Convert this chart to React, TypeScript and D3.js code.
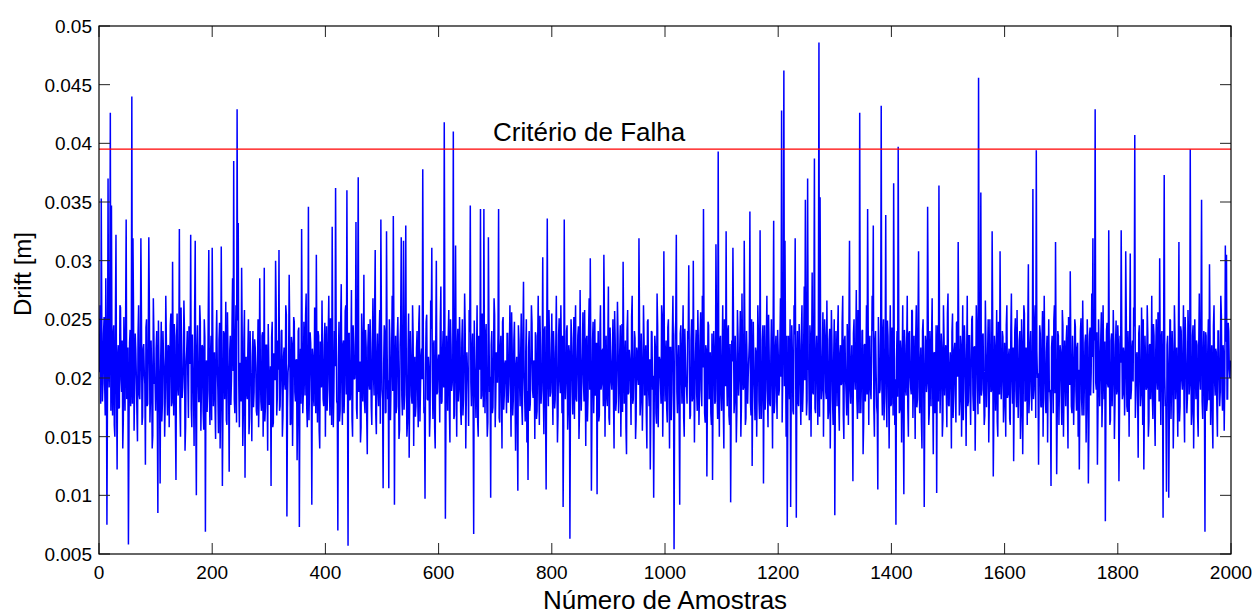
import React from 'react';
import * as d3 from 'd3';

// Drift values in units of 1e-4 m. "even" arrays hold samples 0,2,4,…; "odd" arrays hold samples 1,3,5,…

// even samples 0 – 398
const driftA = [
  205,262,353,180,238,196,285,75,370,192,426,347,168,245,150,322,122,228,175,260,
  188,140,252,172,335,190,58,230,176,440,319,155,238,200,146,262,182,319,160,225,
  205,126,250,178,320,162,232,140,268,195,172,240,85,212,110,248,178,218,150,270,
  190,228,158,245,176,299,168,236,113,255,185,327,150,220,192,266,138,214,240,166,
  232,322,158,205,142,317,100,245,180,262,155,228,172,250,69,215,190,309,160,236,
  311,176,222,148,258,190,232,140,312,108,240,182,265,160,214,120,236,198,285,385,
  170,262,429,332,158,210,294,142,232,115,218,182,250,166,205,146,240,188,226,172,
  210,158,285,180,236,150,294,175,228,138,212,190,108,248,162,220,300,168,232,309,
  176,240,150,218,196,262,82,205,288,160,235,142,252,188,215,130,240,73,225,327,
  170,248,185,272,158,346,195,230,92,218,176,256,305,162,236,140,210,266,182,228,
];
// odd samples 1 – 399
const driftAOdd = [
  221,178,240,196,252,168,230,187,215,246,172,205,236,160,249,190,218,174,262,199,
  232,165,210,248,182,226,159,241,203,178,257,192,224,170,238,186,211,254,167,229,
  195,243,176,220,262,184,207,151,236,198,225,171,249,188,214,163,240,206,180,233,
  168,227,201,255,179,213,246,162,230,192,218,175,260,183,208,239,158,224,197,244,
  212,174,237,189,258,165,222,203,180,248,193,227,156,235,208,171,252,186,219,164,
  241,199,176,230,210,153,247,185,216,172,238,201,164,256,190,223,177,244,206,182,
  228,162,249,194,213,180,236,170,258,205,187,224,152,240,196,218,175,233,209,168,
  250,186,214,172,239,200,163,228,191,246,177,210,235,158,221,198,261,183,207,172,
  203,241,168,226,190,254,174,212,237,161,229,195,248,180,216,166,243,202,178,231,
  187,220,253,176,208,164,239,197,225,183,260,170,214,240,155,231,192,219,176,247,
];
// even samples 400 – 798
const driftB = [
  150,244,190,270,168,225,329,158,240,362,180,70,248,172,280,160,232,195,262,360,
  57,238,182,275,150,228,200,333,165,371,210,145,255,180,288,170,226,135,246,190,
  222,160,268,185,309,152,238,176,258,335,190,106,245,170,325,182,106,232,196,270,
  338,92,236,176,252,148,228,320,168,317,186,330,150,222,132,240,185,262,142,218,
  176,240,158,262,190,225,378,170,97,248,182,218,150,266,311,165,232,140,300,188,
  220,162,278,180,240,418,80,236,172,258,145,228,195,410,168,313,150,242,190,226,
  160,250,182,272,140,222,200,258,347,176,238,67,210,166,262,150,232,344,185,228,
  344,170,246,150,320,188,98,240,175,268,158,222,196,344,162,236,140,252,185,215,
  170,238,195,262,150,226,182,248,138,218,104,232,176,255,160,282,185,222,145,113,
  240,178,262,190,215,148,236,172,270,160,228,190,303,152,244,105,336,176,230,188,
];
// odd samples 401 – 799
const driftBOdd = [
  214,172,236,198,251,160,223,189,210,242,178,216,163,247,195,228,170,257,186,205,
  238,181,209,166,245,199,220,174,253,188,214,158,233,204,180,241,167,226,195,250,
  176,229,203,258,169,217,190,236,161,245,182,212,239,171,226,198,250,164,221,189,
  243,197,170,234,208,156,248,185,222,173,240,201,162,255,190,215,178,236,204,167,
  225,188,246,163,219,199,237,175,211,254,181,207,169,242,196,228,158,233,186,213,
  201,246,178,222,192,260,167,216,235,174,250,189,208,165,238,199,224,180,252,171,
  230,168,214,242,185,206,159,239,196,223,177,249,192,218,163,236,207,182,255,175,
  209,236,187,162,243,201,228,170,215,254,183,205,239,166,224,191,248,173,212,197,
  238,179,221,194,256,168,232,188,210,161,245,198,219,176,236,204,163,250,189,226,
  172,215,247,183,206,239,165,228,197,253,178,212,188,241,170,225,201,258,184,217,
];
// even samples 800 – 1198
const driftC = [
  255,160,222,182,270,145,236,198,262,170,90,335,182,240,156,228,63,250,190,218,
  165,262,180,236,148,275,172,222,196,258,142,236,185,268,302,104,232,170,250,188,
  101,240,168,262,195,225,305,150,236,176,278,160,218,190,250,140,232,180,265,170,
  222,150,246,299,178,232,135,258,188,216,160,270,182,240,148,226,200,319,168,238,
  155,262,185,228,140,250,176,122,240,190,98,236,170,272,158,218,196,262,150,308,
  180,232,162,250,140,226,188,270,54,236,322,170,228,92,245,178,262,150,218,192,
  240,296,165,232,180,300,145,222,186,258,160,236,190,270,344,170,228,116,248,182,
  222,160,113,240,178,314,190,393,150,236,172,262,140,228,325,176,245,160,94,232,
  311,170,236,145,258,185,222,150,272,190,317,160,240,178,216,342,168,125,248,190,
  226,150,262,180,326,165,232,110,245,190,270,158,222,176,250,140,334,180,236,165,
];
// odd samples 801 – 1199
const driftCOdd = [
  193,240,174,226,205,168,251,187,219,236,160,211,197,245,176,222,189,234,169,252,
  228,182,210,244,171,217,198,256,180,206,233,163,240,190,215,174,248,202,185,230,
  206,163,237,190,223,176,249,208,184,230,166,243,197,218,182,257,172,213,236,188,
  245,199,171,229,212,158,240,186,224,197,252,178,208,234,165,221,194,247,180,211,
  187,232,206,168,248,191,216,175,239,202,183,226,161,244,199,215,178,253,190,222,
  219,174,243,196,226,164,235,210,181,249,188,213,170,238,204,227,166,242,193,178,
  233,205,168,250,183,214,197,241,172,228,190,256,176,209,236,162,224,188,245,201,
  170,238,196,221,180,247,165,212,231,187,218,174,250,193,206,240,168,229,182,214,
  248,181,209,172,236,199,257,176,220,192,243,166,214,201,232,179,250,189,207,164,
  222,196,238,165,211,184,245,204,173,229,190,254,178,217,198,236,170,224,192,241,
];
// even samples 1200 – 1598
const driftD = [
  222,190,268,428,200,462,317,150,73,236,182,90,245,172,262,319,81,240,176,228,
  160,262,190,278,352,168,370,210,245,150,290,186,387,170,236,160,486,354,182,222,
  150,250,188,266,165,232,140,258,182,216,83,240,176,262,155,228,195,270,148,236,
  186,246,160,317,178,228,112,250,190,275,165,232,426,170,240,135,228,180,262,344,
  160,236,182,270,330,150,240,176,105,228,190,432,168,250,186,339,158,236,140,262,
  178,230,366,160,75,240,397,170,232,145,262,101,228,185,270,150,240,192,258,166,
  236,148,262,182,308,170,226,140,250,90,236,188,346,160,240,176,268,135,222,190,
  102,245,364,170,238,150,262,185,228,158,272,176,222,140,255,190,230,162,248,316,
  168,236,150,262,190,225,142,270,180,236,160,250,186,226,138,262,195,456,178,358,
  190,238,160,266,175,222,145,250,188,325,116,236,172,258,150,228,308,182,240,162,
];
// odd samples 1201 – 1599
const driftDOdd = [
  185,227,201,162,244,193,217,236,175,209,250,186,222,169,237,198,213,180,246,192,
  240,171,226,198,253,181,207,164,233,216,188,245,174,218,203,239,167,228,190,256,
  204,236,182,215,171,242,196,229,160,250,185,213,238,177,220,194,247,168,232,201,
  168,222,247,189,210,176,238,201,225,183,258,170,212,196,241,162,229,207,186,244,
  226,191,214,240,174,231,205,169,252,187,218,199,236,164,225,182,249,195,210,176,
  243,168,230,199,216,184,250,173,222,208,166,241,190,227,175,238,203,186,257,195,
  198,235,175,248,192,211,163,240,207,182,229,196,253,171,216,236,188,221,170,245,
  217,180,243,196,226,165,234,212,189,255,177,209,198,239,166,224,185,247,201,230,
  181,226,205,164,245,198,219,176,236,190,212,253,172,227,193,240,169,218,206,185,
  236,194,168,231,202,250,180,214,190,243,171,225,208,163,248,186,221,199,235,177,
];
// even samples 1600 – 1998
const driftE = [
  230,150,262,186,225,160,272,178,129,240,190,258,166,232,148,250,135,262,180,226,
  160,297,185,240,172,361,190,262,394,200,126,245,176,232,150,270,182,222,145,250,
  190,108,236,170,262,316,118,240,160,228,185,258,150,232,176,245,140,222,291,176,
  236,160,250,190,226,150,122,240,182,266,168,230,145,250,110,236,185,272,319,240,
  429,190,126,250,176,236,158,262,182,78,240,195,326,160,232,176,258,148,228,186,
  245,112,236,326,182,226,168,308,176,240,150,306,190,232,260,407,186,222,132,245,
  176,260,160,122,236,190,262,150,228,182,270,165,236,142,250,190,226,302,160,240,
  81,373,176,103,236,98,250,165,240,140,262,182,226,150,316,176,240,190,262,145,
  232,170,258,186,395,160,236,140,250,182,228,150,272,190,352,165,240,69,236,180,
  250,297,160,228,140,262,185,222,150,240,176,270,190,228,155,313,305,182,240,200,
];
// odd samples 1601 – 1999
const driftEOdd = [
  208,245,183,219,165,238,200,226,187,251,175,212,197,240,168,229,192,255,181,216,
  243,170,228,195,212,182,247,166,223,204,190,238,175,257,198,218,170,236,206,188,
  178,226,201,249,187,214,168,236,198,222,160,245,190,211,233,179,252,194,224,170,
  212,190,244,172,230,207,185,251,168,219,196,237,181,226,160,243,205,218,187,232,
  196,239,173,222,200,256,183,210,231,175,247,192,216,164,238,201,226,178,249,190,
  229,168,213,241,186,220,198,253,171,208,234,182,225,197,244,166,219,190,238,205,
  186,224,250,178,215,192,237,163,229,205,184,246,170,221,199,256,180,212,235,194,
  240,201,177,228,210,166,249,193,220,174,238,205,186,230,163,244,198,215,178,252,
  206,183,236,196,222,170,245,188,213,232,168,226,201,250,180,217,192,239,172,224,
  181,236,210,167,244,198,225,176,240,205,188,253,172,219,196,231,182,247,208,215,
];

const FAILURE_CRITERION = 0.0395;
const FAILURE_LABEL = 'Critério de Falha';
const X_LABEL = 'Número de Amostras';
const Y_LABEL = 'Drift [m]';
const yTicks = [0.005, 0.01, 0.015, 0.02, 0.025, 0.03, 0.035, 0.04, 0.045, 0.05];
const xTicks = [0, 200, 400, 600, 800, 1000, 1200, 1400, 1600, 1800, 2000];

const FONT = "Arial, 'Liberation Sans', Helvetica, sans-serif";

export default function App() {
  const W = 1255;
  const H = 614;
  const left = 99, right = 1231, top = 26, bottom = 554;
  const x = d3.scaleLinear().domain([0, 2000]).range([left, right]);
  const y = d3.scaleLinear().domain([0.005, 0.05]).range([bottom, top]);

  const even = [...driftA, ...driftB, ...driftC, ...driftD, ...driftE];
  const odd = [...driftAOdd, ...driftBOdd, ...driftCOdd, ...driftDOdd, ...driftEOdd];
  const series: [number, number][] = [];
  even.forEach((v, k) => {
    series.push([2 * k, v / 10000]);
    if (k < odd.length) series.push([2 * k + 1, odd[k] / 10000]);
  });

  const line = d3
    .line<[number, number]>()
    .x((d) => x(d[0]))
    .y((d) => y(d[1]));
  const path = line(series) || '';

  const tickLen = 11;
  const fmt = (v: number) => String(+v.toFixed(3));

  return (
    <svg
      width={W}
      height={H}
      style={{ position: 'absolute', left: 0, top: 0, background: '#fff' }}
      fontFamily={FONT}
    >
      <defs>
        <clipPath id="plotClip">
          <rect x={left} y={top} width={right - left} height={bottom - top} />
        </clipPath>
      </defs>
      <rect x={0} y={0} width={W} height={H} fill="#fff" />

      <g clipPath="url(#plotClip)">
        <path d={path} fill="none" stroke="#0000ff" strokeWidth={1.5} />
        <line
          x1={left}
          x2={right}
          y1={y(FAILURE_CRITERION)}
          y2={y(FAILURE_CRITERION)}
          stroke="#ff0000"
          strokeWidth={1.3}
        />
      </g>

      <text x={493} y={141} fontSize={26} fill="#000">
        {FAILURE_LABEL}
      </text>

      {yTicks.map((t) => (
        <g key={'y' + t}>
          <line x1={left} x2={left + tickLen} y1={y(t)} y2={y(t)} stroke="#222" strokeWidth={1} />
          <line x1={right} x2={right - tickLen} y1={y(t)} y2={y(t)} stroke="#222" strokeWidth={1} />
          <text x={92} y={y(t)} dy="0.36em" textAnchor="end" fontSize={19} fill="#000">
            {fmt(t)}
          </text>
        </g>
      ))}
      {xTicks.map((t) => (
        <g key={'x' + t}>
          <line x1={x(t)} x2={x(t)} y1={bottom} y2={bottom - tickLen} stroke="#222" strokeWidth={1} />
          <line x1={x(t)} x2={x(t)} y1={top} y2={top + tickLen} stroke="#222" strokeWidth={1} />
          <text x={x(t)} y={579} textAnchor="middle" fontSize={19} fill="#000">
            {t}
          </text>
        </g>
      ))}

      <rect
        x={left}
        y={top}
        width={right - left}
        height={bottom - top}
        fill="none"
        stroke="#000"
        strokeWidth={1.2}
      />

      <text x={665} y={609} textAnchor="middle" fontSize={26} fill="#000">
        {X_LABEL}
      </text>
      <text
        transform={`translate(31, 274) rotate(-90)`}
        textAnchor="middle"
        fontSize={24}
        fill="#000"
      >
        {Y_LABEL}
      </text>
    </svg>
  );
}
